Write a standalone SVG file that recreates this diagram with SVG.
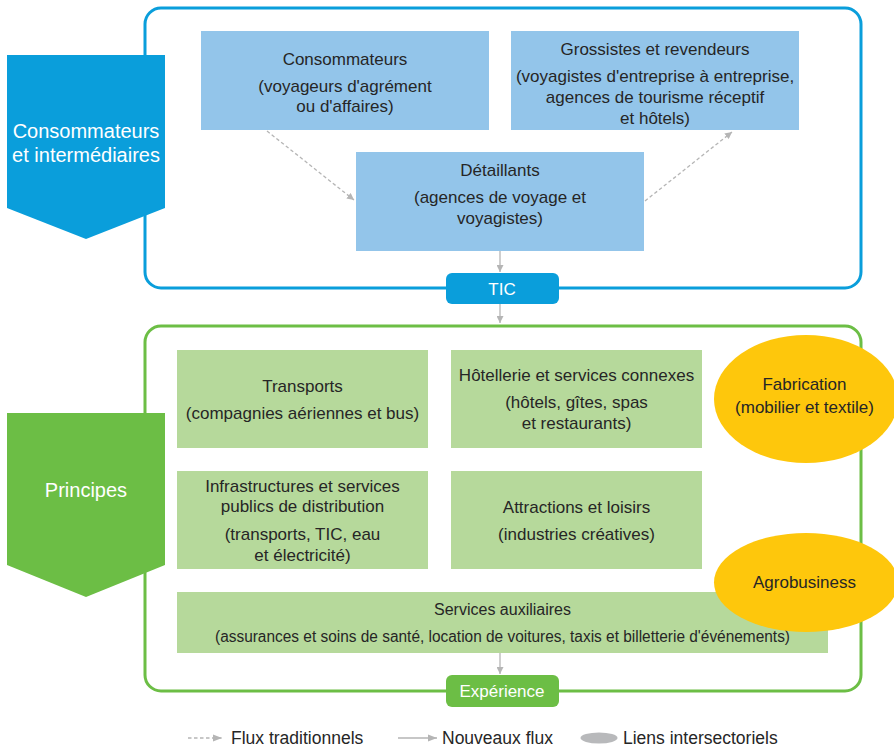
<svg xmlns="http://www.w3.org/2000/svg" width="894" height="747" viewBox="0 0 894 747">
<defs>
<style>
text{font-family:"Liberation Sans",Arial,sans-serif;fill:#262626;text-anchor:middle}
.t17{font-size:17px}
.w{fill:#ffffff}
.bbox{fill:#93c5ea}
.gbox{fill:#b6d99b}
.ell{fill:#fec70c}
.dash{stroke:#b5b5b5;stroke-width:1.3;fill:none;stroke-dasharray:3.5 2.5}
.sol{stroke:#b5b5b5;stroke-width:1.3;fill:none}
</style>
<marker id="ah" viewBox="0 0 10 10" refX="10" refY="5" markerWidth="7" markerHeight="7" markerUnits="userSpaceOnUse" orient="auto">
<path d="M0,0 L10,5 L0,10 z" fill="#b5b5b5"/>
</marker>
<marker id="ah2" viewBox="0 0 10 10" refX="10" refY="5" markerWidth="9" markerHeight="9" markerUnits="userSpaceOnUse" orient="auto">
<path d="M0,1 L10,5 L0,9 z" fill="#b5b5b5"/>
</marker>
</defs>
<rect width="894" height="747" fill="#ffffff"/>

<g id="frame-top">
<rect x="145" y="8" width="716" height="280" rx="16" fill="none" stroke="#0a9edb" stroke-width="3"/>
</g>
<g id="frame-bottom">
<rect x="145" y="326" width="716" height="365" rx="16" fill="none" stroke="#6cbe45" stroke-width="3"/>
</g>

<g id="label-consommateurs-intermediaires">
<polygon points="7,55 165,55 165,208 86,239 7,208" fill="#0a9edb"/>
<text class="w" x="86" y="138" font-size="20">Consommateurs</text>
<text class="w" x="86" y="162" font-size="20">et intermédiaires</text>
</g>
<g id="label-principes">
<polygon points="7,413 165,413 165,565 86,597 7,565" fill="#6cbe45"/>
<text class="w" x="86" y="497" font-size="20">Principes</text>
</g>

<g id="connectors">
<line class="dash" x1="267" y1="131" x2="354" y2="200" marker-end="url(#ah)"/>
<line class="dash" x1="645" y1="201" x2="732" y2="132" marker-end="url(#ah)"/>
<line class="sol" x1="500" y1="251" x2="500" y2="272" marker-end="url(#ah)"/>
<line class="sol" x1="500" y1="304" x2="500" y2="323" marker-end="url(#ah)"/>
<line class="sol" x1="500" y1="653" x2="500" y2="674" marker-end="url(#ah)"/>
</g>

<g id="node-consommateurs">
<rect class="bbox" x="201" y="31" width="288" height="99"/>
<text class="t17" x="345" y="65">Consommateurs</text>
<text class="t17" x="345" y="92">(voyageurs d'agrément</text>
<text class="t17" x="345" y="112">ou d'affaires)</text>
</g>
<g id="node-grossistes">
<rect class="bbox" x="511" y="31" width="288" height="99"/>
<text class="t17" x="655" y="55">Grossistes et revendeurs</text>
<text class="t17" x="655" y="82">(voyagistes d'entreprise à entreprise,</text>
<text class="t17" x="655" y="103">agences de tourisme réceptif</text>
<text class="t17" x="655" y="124">et hôtels)</text>
</g>
<g id="node-detaillants">
<rect class="bbox" x="356" y="152" width="288" height="99"/>
<text class="t17" x="500" y="176">Détaillants</text>
<text class="t17" x="500" y="203">(agences de voyage et</text>
<text class="t17" x="500" y="224">voyagistes)</text>
</g>
<g id="node-tic">
<rect x="446" y="273" width="113" height="31" rx="6" fill="#0a9edb"/>
<text class="w" x="502" y="295" font-size="17">TIC</text>
</g>

<g id="node-transports">
<rect class="gbox" x="177" y="350" width="251" height="98"/>
<text class="t17" x="302.5" y="392">Transports</text>
<text class="t17" x="302.5" y="419">(compagnies aériennes et bus)</text>
</g>
<g id="node-hotellerie">
<rect class="gbox" x="451" y="350" width="251" height="98"/>
<text class="t17" x="576.5" y="381">Hôtellerie et services connexes</text>
<text class="t17" x="576.5" y="408">(hôtels, gîtes, spas</text>
<text class="t17" x="576.5" y="429">et restaurants)</text>
</g>
<g id="node-infrastructures">
<rect class="gbox" x="177" y="471" width="251" height="98"/>
<text class="t17" x="302.5" y="492">Infrastructures et services</text>
<text class="t17" x="302.5" y="512">publics de distribution</text>
<text class="t17" x="302.5" y="540">(transports, TIC, eau</text>
<text class="t17" x="302.5" y="561">et électricité)</text>
</g>
<g id="node-attractions">
<rect class="gbox" x="451" y="471" width="251" height="98"/>
<text class="t17" x="576.5" y="513">Attractions et loisirs</text>
<text class="t17" x="576.5" y="540">(industries créatives)</text>
</g>
<g id="node-services">
<rect class="gbox" x="177" y="592" width="651" height="61"/>
<text x="502.5" y="615" font-size="16">Services auxiliaires</text>
<text x="502.5" y="642" font-size="16" textLength="575" lengthAdjust="spacingAndGlyphs">(assurances et soins de santé, location de voitures, taxis et billetterie d'événements)</text>
</g>
<g id="node-fabrication">
<ellipse class="ell" cx="806" cy="399" rx="92" ry="64"/>
<text class="t17" x="804.5" y="390">Fabrication</text>
<text class="t17" x="804.5" y="413">(mobilier et textile)</text>
</g>
<g id="node-agrobusiness">
<ellipse class="ell" cx="806" cy="582.5" rx="92" ry="49.5"/>
<text class="t17" x="804.5" y="588">Agrobusiness</text>
</g>
<g id="node-experience">
<rect x="446" y="675" width="113" height="32" rx="6" fill="#6cbe45"/>
<text class="w" x="502" y="697" font-size="17">Expérience</text>
</g>

<g id="legend">
<line class="dash" x1="188" y1="738" x2="222" y2="738" marker-end="url(#ah2)"/>
<text x="231" y="744" font-size="17.5" style="text-anchor:start">Flux traditionnels</text>
<line class="sol" x1="398" y1="738" x2="437" y2="738" marker-end="url(#ah2)"/>
<text x="442" y="744" font-size="17.5" style="text-anchor:start">Nouveaux flux</text>
<ellipse cx="599" cy="738" rx="18.5" ry="5.5" fill="#b8b9bb"/>
<text x="623" y="744" font-size="17.5" style="text-anchor:start">Liens intersectoriels</text>
</g>
</svg>
